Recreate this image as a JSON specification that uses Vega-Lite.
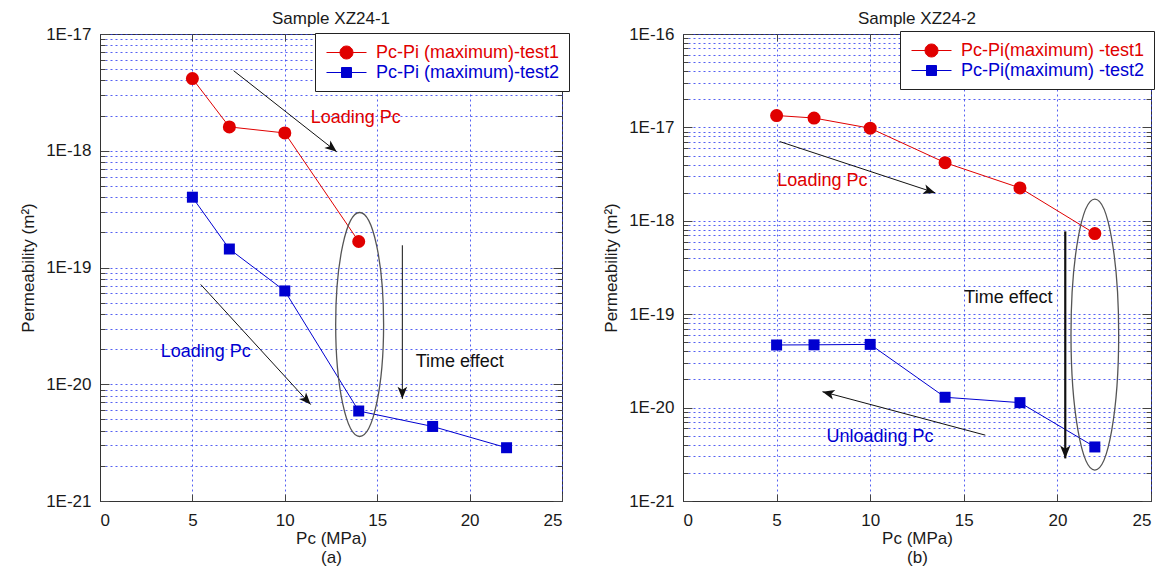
{
  "$schema": "https://vega.github.io/schema/vega-lite/v6.json",
  "background": "white",
  "padding": {"left": 19, "right": 5, "top": 9, "bottom": 5},
  "spacing": 121,
  "bounds": "flush",
  "resolve": {"scale": {"color": "independent", "fill": "independent", "shape": "independent", "size": "independent", "x": "independent", "y": "independent"}, "legend": {"color": "independent"}},
  "config": {
    "font": "Liberation Sans",
    "view": {"stroke": "#333333", "strokeWidth": 1},
    "axis": {
      "labelFont": "Liberation Sans", "labelFontSize": 17, "labelColor": "#1a1a1a",
      "titleFont": "Liberation Sans", "titleFontSize": 17, "titleFontWeight": "normal", "titleColor": "#1a1a1a",
      "domainColor": "#333333", "tickColor": "#444444",
      "gridColor": "#2a3af0", "gridDash": [2, 3], "gridOpacity": 0.8, "gridWidth": 1
    },
    "title": {"font": "Liberation Sans", "fontSize": 17, "fontWeight": "normal", "color": "#1a1a1a", "offset": -3},
    "legend": {
      "orient": "none",
      "title": null,
      "fillColor": "white", "strokeColor": "#222222",
      "padding": 9,
      "labelFont": "Liberation Sans", "labelFontSize": 18, "labelLimit": 0,
      "symbolSize": 400, "symbolStrokeWidth": 1,
      "rowPadding": 0, "labelOffset": 31
    }
  },
  "datasets": {
    "xz1": [
      {"series": "Pc-Pi (maximum)-test1", "pc": 5, "k": 4.15e-18},
      {"series": "Pc-Pi (maximum)-test1", "pc": 7, "k": 1.6e-18},
      {"series": "Pc-Pi (maximum)-test1", "pc": 10, "k": 1.42e-18},
      {"series": "Pc-Pi (maximum)-test1", "pc": 14, "k": 1.67e-19},
      {"series": "Pc-Pi (maximum)-test2", "pc": 5, "k": 4.0e-19},
      {"series": "Pc-Pi (maximum)-test2", "pc": 7, "k": 1.44e-19},
      {"series": "Pc-Pi (maximum)-test2", "pc": 10, "k": 6.3e-20},
      {"series": "Pc-Pi (maximum)-test2", "pc": 14, "k": 5.9e-21},
      {"series": "Pc-Pi (maximum)-test2", "pc": 18, "k": 4.35e-21},
      {"series": "Pc-Pi (maximum)-test2", "pc": 22, "k": 2.86e-21}
    ],
    "xz2": [
      {"series": "Pc-Pi(maximum) -test1", "pc": 5, "k": 1.34e-17},
      {"series": "Pc-Pi(maximum) -test1", "pc": 7, "k": 1.26e-17},
      {"series": "Pc-Pi(maximum) -test1", "pc": 10, "k": 9.8e-18},
      {"series": "Pc-Pi(maximum) -test1", "pc": 14, "k": 4.19e-18},
      {"series": "Pc-Pi(maximum) -test1", "pc": 18, "k": 2.25e-18},
      {"series": "Pc-Pi(maximum) -test1", "pc": 22, "k": 7.3e-19},
      {"series": "Pc-Pi(maximum) -test2", "pc": 5, "k": 4.68e-20},
      {"series": "Pc-Pi(maximum) -test2", "pc": 7, "k": 4.7e-20},
      {"series": "Pc-Pi(maximum) -test2", "pc": 10, "k": 4.75e-20},
      {"series": "Pc-Pi(maximum) -test2", "pc": 14, "k": 1.29e-20},
      {"series": "Pc-Pi(maximum) -test2", "pc": 18, "k": 1.13e-20},
      {"series": "Pc-Pi(maximum) -test2", "pc": 22, "k": 3.79e-21}
    ],
    "arrows1": [
      {"arrow": "a1", "end": "tail", "pc": 7.23, "k": 4.85e-18},
      {"arrow": "a1", "end": "head", "pc": 12.81, "k": 9.8e-19},
      {"arrow": "a2", "end": "tail", "pc": 5.45, "k": 7.16e-20},
      {"arrow": "a2", "end": "head", "pc": 11.4, "k": 6.7e-21},
      {"arrow": "time", "end": "tail", "pc": 16.36, "k": 1.55e-19},
      {"arrow": "time", "end": "head", "pc": 16.36, "k": 7.5e-21}
    ],
    "arrows2": [
      {"arrow": "r1", "end": "tail", "pc": 5.16, "k": 7.06e-18},
      {"arrow": "r1", "end": "head", "pc": 13.48, "k": 1.99e-18},
      {"arrow": "unload", "end": "tail", "pc": 16.15, "k": 5.07e-21},
      {"arrow": "unload", "end": "head", "pc": 7.45, "k": 1.48e-20},
      {"arrow": "time", "end": "tail", "pc": 20.42, "k": 7.7e-19},
      {"arrow": "time", "end": "head", "pc": 20.42, "k": 2.86e-21}
    ],
    "notes1": [
      {"note": "Loading Pc", "refers": "test1", "pc": 11.4, "k": 1.9e-18},
      {"note": "Loading Pc", "refers": "test2", "pc": 3.29, "k": 1.88e-20},
      {"note": "Time effect", "refers": "both", "pc": 17.08, "k": 1.54e-20}
    ],
    "notes2": [
      {"note": "Loading Pc", "refers": "test1", "pc": 5.04, "k": 2.7e-18},
      {"note": "Unloading Pc", "refers": "test2", "pc": 7.66, "k": 4.82e-21},
      {"note": "Time effect", "refers": "both", "pc": 15.03, "k": 1.49e-19}
    ],
    "ell1": [{"pc": 14.05, "k": 3.25e-20}],
    "ell2": [{"pc": 22.0, "k": 6.05e-20}]
  },
  "hconcat": [
    {
      "width": 462, "height": 467,
      "title": {"text": "Sample XZ24-1"},
      "resolve": {"axis": {"x": "independent", "y": "independent"}},
      "layer": [
        {
          "data": {"name": "xz1"},
          "mark": {"type": "line", "strokeWidth": 1},
          "encoding": {
            "x": {"field": "pc", "type": "quantitative",
              "scale": {"domain": [0, 25], "nice": false, "zero": false},
              "axis": {"orient": "bottom", "values": [0, 5, 10, 15, 20, 25], "tickSize": -7, "labelPadding": 18,
                "title": ["Pc (MPa)", "(a)"], "titleLineHeight": 19, "titlePadding": 2}},
            "y": {"field": "k", "type": "quantitative",
              "scale": {"type": "log", "domain": [1e-21, 1e-17], "nice": false},
              "axis": {"orient": "left",
                "values": [1e-21,2e-21,3e-21,4e-21,5e-21,6e-21,7e-21,8e-21,9e-21,1e-20,2e-20,3e-20,4e-20,5e-20,6e-20,7e-20,8e-20,9e-20,1e-19,2e-19,3e-19,4e-19,5e-19,6e-19,7e-19,8e-19,9e-19,1e-18,2e-18,3e-18,4e-18,5e-18,6e-18,7e-18,8e-18,9e-18,1e-17],
                "labelExpr": "abs(log(datum.value)/LN10 - round(log(datum.value)/LN10)) < 0.01 ? '1E' + round(log(datum.value)/LN10) : ''",
                "tickSize": {"condition": {"test": "abs(log(datum.value)/LN10 - round(log(datum.value)/LN10)) < 0.01", "value": -9}, "value": -5},
                "labelPadding": 18, "labelOverlap": false, "labelFlush": false,
                "title": "Permeability (m²)", "titlePadding": 8}},
            "color": {"field": "series", "type": "nominal",
              "scale": {"domain": ["Pc-Pi (maximum)-test1", "Pc-Pi (maximum)-test2"], "range": ["#e00000", "#0000d0"]},
              "legend": {"legendX": 215, "legendY": -1,
                "encode": {
                  "labels": {"update": {"fill": {"signal": "indexof(datum.value, 'test1') >= 0 ? '#e00000' : '#0000d0'"}}},
                  "symbols": {"update": {
                    "shape": {"signal": "indexof(datum.value, 'test1') >= 0 ? 'M-0.8,0 L3.2,0 M0.55,0 A0.65,0.65 0 1,0 1.85,0 A0.65,0.65 0 1,0 0.55,0 Z' : 'M-0.8,0 L3.2,0 M0.7,-0.5 L1.7,-0.5 L1.7,0.5 L0.7,0.5 Z'"},
                    "fill": {"signal": "indexof(datum.value, 'test1') >= 0 ? '#e00000' : '#0000d0'"},
                    "stroke": {"signal": "indexof(datum.value, 'test1') >= 0 ? '#e00000' : '#0000d0'"}}}
                }}}
          }
        },
        {
          "data": {"name": "xz1"},
          "mark": {"type": "point", "filled": true, "opacity": 1},
          "encoding": {
            "x": {"field": "pc", "type": "quantitative",
              "axis": {"orient": "top", "values": [5, 10, 15, 20], "labels": false, "grid": false, "domain": false, "title": null, "tickSize": -7}},
            "y": {"field": "k", "type": "quantitative",
              "axis": {"orient": "right", "labels": false, "grid": false, "domain": false, "title": null,
                "values": [1e-21,2e-21,3e-21,4e-21,5e-21,6e-21,7e-21,8e-21,9e-21,1e-20,2e-20,3e-20,4e-20,5e-20,6e-20,7e-20,8e-20,9e-20,1e-19,2e-19,3e-19,4e-19,5e-19,6e-19,7e-19,8e-19,9e-19,1e-18,2e-18,3e-18,4e-18,5e-18,6e-18,7e-18,8e-18,9e-18,1e-17],
                "tickSize": {"condition": {"test": "abs(log(datum.value)/LN10 - round(log(datum.value)/LN10)) < 0.01", "value": -9}, "value": -5}}},
            "color": {"field": "series", "type": "nominal", "legend": null},
            "shape": {"field": "series", "type": "nominal", "scale": {"range": ["circle", "square"]}, "legend": null},
            "size": {"field": "series", "type": "nominal", "scale": {"range": [170, 121]}, "legend": null}
          }
        },
        {
          "data": {"name": "arrows1"},
          "mark": {"type": "line", "color": "#111111", "strokeWidth": 1},
          "encoding": {
            "x": {"field": "pc", "type": "quantitative", "axis": null},
            "y": {"field": "k", "type": "quantitative", "axis": null},
            "detail": {"field": "arrow"},
            "order": {"field": "end"}
          }
        },
        {
          "data": {"name": "arrows1"},
          "transform": [{"filter": "datum.arrow == 'a1' && datum.end == 'head'"}],
          "mark": {"type": "point", "shape": "M0,0 L0.4,1 L0,0.75 L-0.4,1 Z", "size": 576, "angle": 128.5, "filled": true, "color": "#111111", "opacity": 1},
          "encoding": {"x": {"field": "pc", "type": "quantitative", "axis": null}, "y": {"field": "k", "type": "quantitative", "axis": null}}
        },
        {
          "data": {"name": "arrows1"},
          "transform": [{"filter": "datum.arrow == 'a2' && datum.end == 'head'"}],
          "mark": {"type": "point", "shape": "M0,0 L0.4,1 L0,0.75 L-0.4,1 Z", "size": 576, "angle": 137.2, "filled": true, "color": "#111111", "opacity": 1},
          "encoding": {"x": {"field": "pc", "type": "quantitative", "axis": null}, "y": {"field": "k", "type": "quantitative", "axis": null}}
        },
        {
          "data": {"name": "arrows1"},
          "transform": [{"filter": "datum.arrow == 'time' && datum.end == 'head'"}],
          "mark": {"type": "point", "shape": "M0,0 L0.4,1 L0,0.75 L-0.4,1 Z", "size": 576, "angle": 180, "filled": true, "color": "#111111", "opacity": 1},
          "encoding": {"x": {"field": "pc", "type": "quantitative", "axis": null}, "y": {"field": "k", "type": "quantitative", "axis": null}}
        },
        {
          "data": {"name": "ell1"},
          "mark": {"type": "point", "shape": "M0,-1 A0.214,1 0 1,1 0,1 A0.214,1 0 1,1 0,-1 Z", "size": 50176, "filled": false, "color": "#555555", "strokeWidth": 1.3, "opacity": 1},
          "encoding": {"x": {"field": "pc", "type": "quantitative", "axis": null}, "y": {"field": "k", "type": "quantitative", "axis": null}}
        },
        {
          "data": {"name": "notes1"},
          "mark": {"type": "text", "align": "left", "baseline": "middle", "fontSize": 18, "font": "Liberation Sans"},
          "encoding": {
            "x": {"field": "pc", "type": "quantitative", "axis": null},
            "y": {"field": "k", "type": "quantitative", "axis": null},
            "text": {"field": "note"},
            "fill": {"field": "refers", "type": "nominal", "scale": {"domain": ["test1", "test2", "both"], "range": ["#e00000", "#0000d0", "#111111"]}, "legend": null}
          }
        }
      ]
    },
    {
      "width": 468, "height": 467,
      "title": {"text": "Sample XZ24-2"},
      "resolve": {"axis": {"x": "independent", "y": "independent"}},
      "layer": [
        {
          "data": {"name": "xz2"},
          "mark": {"type": "line", "strokeWidth": 1},
          "encoding": {
            "x": {"field": "pc", "type": "quantitative",
              "scale": {"domain": [0, 25], "nice": false, "zero": false},
              "axis": {"orient": "bottom", "values": [0, 5, 10, 15, 20, 25], "tickSize": -7, "labelPadding": 18,
                "title": ["Pc (MPa)", "(b)"], "titleLineHeight": 19, "titlePadding": 2}},
            "y": {"field": "k", "type": "quantitative",
              "scale": {"type": "log", "domain": [1e-21, 1e-16], "nice": false},
              "axis": {"orient": "left",
                "values": [1e-21,2e-21,3e-21,4e-21,5e-21,6e-21,7e-21,8e-21,9e-21,1e-20,2e-20,3e-20,4e-20,5e-20,6e-20,7e-20,8e-20,9e-20,1e-19,2e-19,3e-19,4e-19,5e-19,6e-19,7e-19,8e-19,9e-19,1e-18,2e-18,3e-18,4e-18,5e-18,6e-18,7e-18,8e-18,9e-18,1e-17,2e-17,3e-17,4e-17,5e-17,6e-17,7e-17,8e-17,9e-17,1e-16],
                "labelExpr": "abs(log(datum.value)/LN10 - round(log(datum.value)/LN10)) < 0.01 ? '1E' + round(log(datum.value)/LN10) : ''",
                "tickSize": {"condition": {"test": "abs(log(datum.value)/LN10 - round(log(datum.value)/LN10)) < 0.01", "value": -9}, "value": -5},
                "labelPadding": 18, "labelOverlap": false, "labelFlush": false,
                "title": "Permeability (m²)", "titlePadding": 8}},
            "color": {"field": "series", "type": "nominal",
              "scale": {"domain": ["Pc-Pi(maximum) -test1", "Pc-Pi(maximum) -test2"], "range": ["#e00000", "#0000d0"]},
              "legend": {"legendX": 217, "legendY": -3,
                "encode": {
                  "labels": {"update": {"fill": {"signal": "indexof(datum.value, 'test1') >= 0 ? '#e00000' : '#0000d0'"}}},
                  "symbols": {"update": {
                    "shape": {"signal": "indexof(datum.value, 'test1') >= 0 ? 'M-0.8,0 L3.2,0 M0.55,0 A0.65,0.65 0 1,0 1.85,0 A0.65,0.65 0 1,0 0.55,0 Z' : 'M-0.8,0 L3.2,0 M0.7,-0.5 L1.7,-0.5 L1.7,0.5 L0.7,0.5 Z'"},
                    "fill": {"signal": "indexof(datum.value, 'test1') >= 0 ? '#e00000' : '#0000d0'"},
                    "stroke": {"signal": "indexof(datum.value, 'test1') >= 0 ? '#e00000' : '#0000d0'"}}}
                }}}
          }
        },
        {
          "data": {"name": "xz2"},
          "mark": {"type": "point", "filled": true, "opacity": 1},
          "encoding": {
            "x": {"field": "pc", "type": "quantitative",
              "axis": {"orient": "top", "values": [5, 10, 15, 20], "labels": false, "grid": false, "domain": false, "title": null, "tickSize": -7}},
            "y": {"field": "k", "type": "quantitative",
              "axis": {"orient": "right", "labels": false, "grid": false, "domain": false, "title": null,
                "values": [1e-21,2e-21,3e-21,4e-21,5e-21,6e-21,7e-21,8e-21,9e-21,1e-20,2e-20,3e-20,4e-20,5e-20,6e-20,7e-20,8e-20,9e-20,1e-19,2e-19,3e-19,4e-19,5e-19,6e-19,7e-19,8e-19,9e-19,1e-18,2e-18,3e-18,4e-18,5e-18,6e-18,7e-18,8e-18,9e-18,1e-17,2e-17,3e-17,4e-17,5e-17,6e-17,7e-17,8e-17,9e-17,1e-16],
                "tickSize": {"condition": {"test": "abs(log(datum.value)/LN10 - round(log(datum.value)/LN10)) < 0.01", "value": -9}, "value": -5}}},
            "color": {"field": "series", "type": "nominal", "legend": null},
            "shape": {"field": "series", "type": "nominal", "scale": {"range": ["circle", "square"]}, "legend": null},
            "size": {"field": "series", "type": "nominal", "scale": {"range": [170, 121]}, "legend": null}
          }
        },
        {
          "data": {"name": "arrows2"},
          "transform": [{"filter": "datum.arrow != 'time'"}],
          "mark": {"type": "line", "color": "#111111", "strokeWidth": 1},
          "encoding": {
            "x": {"field": "pc", "type": "quantitative", "axis": null},
            "y": {"field": "k", "type": "quantitative", "axis": null},
            "detail": {"field": "arrow"},
            "order": {"field": "end"}
          }
        },
        {
          "data": {"name": "arrows2"},
          "transform": [{"filter": "datum.arrow == 'time'"}],
          "mark": {"type": "line", "color": "#111111", "strokeWidth": 2.2},
          "encoding": {
            "x": {"field": "pc", "type": "quantitative", "axis": null},
            "y": {"field": "k", "type": "quantitative", "axis": null},
            "order": {"field": "end"}
          }
        },
        {
          "data": {"name": "arrows2"},
          "transform": [{"filter": "datum.arrow == 'r1' && datum.end == 'head'"}],
          "mark": {"type": "point", "shape": "M0,0 L0.4,1 L0,0.75 L-0.4,1 Z", "size": 576, "angle": 108.2, "filled": true, "color": "#111111", "opacity": 1},
          "encoding": {"x": {"field": "pc", "type": "quantitative", "axis": null}, "y": {"field": "k", "type": "quantitative", "axis": null}}
        },
        {
          "data": {"name": "arrows2"},
          "transform": [{"filter": "datum.arrow == 'unload' && datum.end == 'head'"}],
          "mark": {"type": "point", "shape": "M0,0 L0.4,1 L0,0.75 L-0.4,1 Z", "size": 576, "angle": 284.8, "filled": true, "color": "#111111", "opacity": 1},
          "encoding": {"x": {"field": "pc", "type": "quantitative", "axis": null}, "y": {"field": "k", "type": "quantitative", "axis": null}}
        },
        {
          "data": {"name": "arrows2"},
          "transform": [{"filter": "datum.arrow == 'time' && datum.end == 'head'"}],
          "mark": {"type": "point", "shape": "M0,0 L0.4,1 L0,0.75 L-0.4,1 Z", "size": 676, "angle": 180, "filled": true, "color": "#111111", "opacity": 1},
          "encoding": {"x": {"field": "pc", "type": "quantitative", "axis": null}, "y": {"field": "k", "type": "quantitative", "axis": null}}
        },
        {
          "data": {"name": "ell2"},
          "mark": {"type": "point", "shape": "M0,-1 A0.176,1 0 1,1 0,1 A0.176,1 0 1,1 0,-1 Z", "size": 73441, "filled": false, "color": "#555555", "strokeWidth": 1.3, "opacity": 1},
          "encoding": {"x": {"field": "pc", "type": "quantitative", "axis": null}, "y": {"field": "k", "type": "quantitative", "axis": null}}
        },
        {
          "data": {"name": "notes2"},
          "mark": {"type": "text", "align": "left", "baseline": "middle", "fontSize": 18, "font": "Liberation Sans"},
          "encoding": {
            "x": {"field": "pc", "type": "quantitative", "axis": null},
            "y": {"field": "k", "type": "quantitative", "axis": null},
            "text": {"field": "note"},
            "fill": {"field": "refers", "type": "nominal", "scale": {"domain": ["test1", "test2", "both"], "range": ["#e00000", "#0000d0", "#111111"]}, "legend": null}
          }
        }
      ]
    }
  ]
}
